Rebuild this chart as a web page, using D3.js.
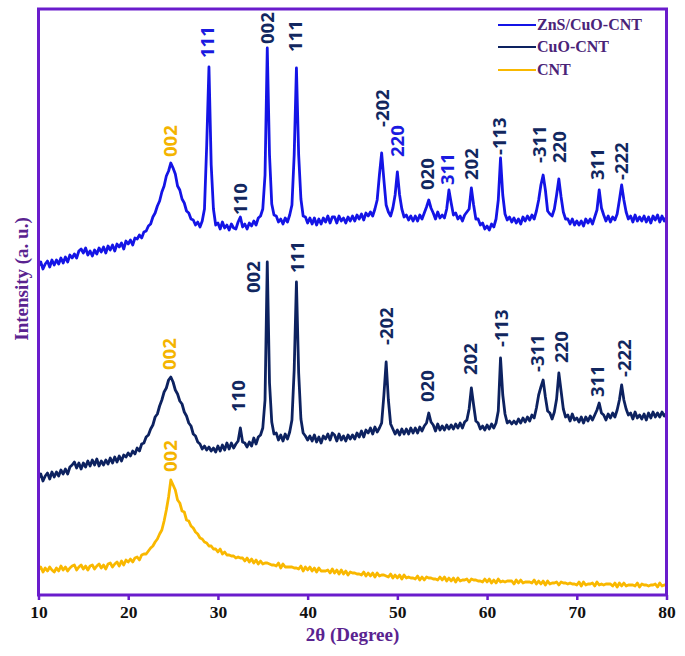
<!DOCTYPE html>
<html>
<head>
<meta charset="utf-8">
<script src="https://cdn.jsdelivr.net/npm/d3@7"></script>
<style>
  html, body { margin: 0; padding: 0; background: #fff; }
  svg { display: block; }
</style>
</head>
<body>
<svg id="chart" width="685" height="656"></svg>
<script>
// ---------- DATA ----------
// 2θ sampling: 10° to 80° every 0.25°
const twoThetaStart = 10;
const twoThetaStep = 0.25;
const xTicks = [10, 20, 30, 40, 50, 60, 70, 80];

const seriesNames = ["ZnS/CuO-CNT", "CuO-CNT", "CNT"];

// Intensity (a.u., offset traces as in the figure), one group per degree (x.00, x.25, x.50, x.75)
const znsCuoCnt = [
  329,333,326,331, 334,328,335,330, 335,331,337,332, 338,333,340,337, 341,337,344,346,
  342,347,340,344, 339,345,341,347, 343,348,342,349, 345,350,344,351, 348,352,346,354,
  351,355,350,357, 356,360,357,363, 364,369,371,378, 382,389,394,403, 409,419,424,432,
  427,421,409,405, 396,392,384,382, 376,375,370,373, 368,374,386,450, 528,430,386,370,
  372,366,373,367, 370,365,371,367, 366,373,378,368, 371,366,372,369, 374,370,377,379,
  386,420,547,440, 391,380,379,373, 376,371,377,373, 380,390,440,527, 440,396,379,378,
  372,377,371,377, 370,376,371,377, 373,379,372,378, 378,372,379,374, 377,372,378,374,
  379,374,380,376, 381,375,382,379, 383,379,386,395, 420,442,415,390, 383,379,387,400,
  423,400,386,378, 380,375,379,374, 379,374,380,376, 382,388,395,387, 382,376,383,377,
  380,377,386,405, 392,380,382,376, 379,374,380,383, 386,407,390,376, 376,370,372,366,
  369,365,371,368, 376,395,437,400, 381,375,378,373, 377,372,376,371, 378,374,379,375,
  380,376,384,395, 410,420,405,384, 381,379,386,400, 416,398,383,376, 376,371,376,370,
  374,370,374,369, 376,372,376,371, 378,385,405,387, 380,374,379,373, 378,375,381,395,
  410,395,383,376, 379,373,380,374, 378,374,379,373, 378,372,379,375, 380,373,379,374,
  378
];

const cuoCnt = [
  117,121,114,119, 122,116,123,118, 123,119,125,121, 126,121,128,130, 133,127,132,126,
  132,128,134,129, 135,130,136,129, 134,130,135,131, 137,132,138,133, 139,134,140,138,
  142,139,144,141, 147,144,151,152, 158,160,166,170, 178,181,189,195, 203,207,215,218,
  213,205,201,194, 191,183,179,172, 169,161,159,153, 151,146,149,145, 148,144,147,143,
  149,144,150,145, 152,146,152,147, 151,154,167,153, 152,148,153,149, 157,151,158,160,
  167,195,333,212, 173,161,162,155, 160,154,161,156, 163,175,225,313, 222,176,162,159,
  155,159,154,160, 153,158,152,159, 156,161,155,162, 160,154,161,155, 159,154,160,156,
  160,156,162,158, 164,158,165,162, 167,161,168,163, 167,172,200,233, 195,171,166,161,
  165,160,166,161, 166,161,167,162, 167,162,168,164, 169,172,182,173, 170,164,171,165,
  169,165,170,166, 170,166,171,167, 172,167,173,175, 186,207,190,174, 172,166,169,165,
  170,166,171,167, 172,184,237,200, 181,172,174,171, 174,171,176,172, 177,173,178,174,
  180,177,187,200, 208,215,198,184, 182,176,183,196, 222,204,186,178, 180,174,181,175,
  177,173,178,172, 178,174,179,175, 180,185,192,182, 180,175,181,177, 182,178,185,195,
  210,195,186,180, 182,176,183,177, 180,176,181,175, 182,177,183,178, 182,178,183,179,
  182
];

const cnt = [
  25,28,23,27, 24,28,25,23, 27,24,29,25, 28,24,27,29, 30,25,28,30,
  26,29,25,29, 30,26,29,31, 27,30,26,31, 32,28,31,33, 29,34,30,35,
  33,36,33,37, 38,35,40,41, 41,44,47,49, 53,56,61,65, 74,85,98,115,
  110,105,95,92, 84,83,75,74, 69,67,63,61, 57,56,53,52, 49,49,46,46,
  43,46,41,43, 40,40,39,39, 37,38,37,37, 34,37,33,36, 32,35,31,34,
  31,32,32,31, 30,30,29,32, 27,31,28,28, 28,28,27,27, 26,29,24,28,
  25,28,24,27, 23,27,24,24, 24,25,22,26, 22,25,21,25, 21,24,20,23,
  22,22,21,21, 20,23,19,22, 19,22,18,22, 19,20,20,19, 18,21,17,20,
  17,20,16,20, 17,18,17,17, 16,19,15,18, 15,18,17,17, 16,16,15,18,
  15,18,14,17, 14,17,13,17, 14,15,15,16, 13,16,15,15, 14,14,13,16,
  13,16,12,15, 12,16,13,14, 13,14,14,14, 11,15,12,15, 12,13,13,13,
  12,15,11,14, 11,14,10,14, 11,12,12,13, 10,13,12,12, 11,12,11,11,
  10,13,9,13, 10,11,11,12, 9,13,10,11, 10,11,11,11, 9,12,8,12,
  9,12,9,10, 10,10,9,12, 8,11,10,10, 9,10,10,11, 8,12,9,10,
  10
];

// Peak (hkl) annotations: [label, 2θ, intensity at label foot, colour key]
const peakLabels = [
  // ZnS/CuO-CNT trace
  ["002", 24.7, 438, "cnt"],
  ["111", 28.85, 537, "zns"],
  ["110", 32.5, 380, "cuo"],
  ["002", 35.5, 551, "cuo"],
  ["111", 38.6, 543, "cuo"],
  ["-202", 48.3, 468, "cuo"],
  ["220", 50.0, 438, "zns"],
  ["020", 53.3, 405, "cuo"],
  ["311", 55.6, 410, "zns"],
  ["202", 58.2, 415, "cuo"],
  ["-113", 61.4, 440, "cuo"],
  ["-311", 65.8, 432, "cuo"],
  ["220", 68.1, 432, "cuo"],
  ["311", 72.3, 415, "cuo"],
  ["-222", 75.0, 415, "cuo"],
  // CuO-CNT trace
  ["002", 24.6, 225, "cnt"],
  ["110", 32.3, 183, "cuo"],
  ["002", 34.0, 302, "cuo"],
  ["111", 38.8, 322, "cuo"],
  ["-202", 48.8, 250, "cuo"],
  ["020", 53.3, 193, "cuo"],
  ["202", 58.1, 220, "cuo"],
  ["-113", 61.6, 248, "cuo"],
  ["-311", 65.6, 223, "cuo"],
  ["220", 68.3, 232, "cuo"],
  ["311", 72.3, 198, "cuo"],
  ["-222", 75.3, 218, "cuo"],
  // CNT trace
  ["002", 24.7, 123, "cnt"]
];

// ---------- STYLE ----------
const colors = { zns: "#1414e6", cuo: "#0d2260", cnt: "#f9b800" };
const labelColors = { zns: "#1a1ae0", cuo: "#12275f", cnt: "#f4b400" };
const frameColor = "#6a1ccc";
const titleColor = "#5a2390";
const legendTextColor = "#4a2378";

// ---------- CHART ----------
const svg = d3.select("#chart");
const L = 38.5, R = 666.5, T = 9, B = 595;

const x = d3.scaleLinear().domain([10, 80]).range([L, R]);
const y = d3.scaleLinear().domain([0, B - T]).range([B, T]);

const toPoints = arr => arr.map((v, i) => [twoThetaStart + i * twoThetaStep, v]);
const line = d3.line().x(d => x(d[0])).y(d => y(d[1]));

const series = [
  { key: "zns", name: seriesNames[0], data: toPoints(znsCuoCnt) },
  { key: "cuo", name: seriesNames[1], data: toPoints(cuoCnt) },
  { key: "cnt", name: seriesNames[2], data: toPoints(cnt) }
];

svg.append("defs").append("clipPath").attr("id", "clip")
  .append("rect").attr("x", L).attr("y", T).attr("width", R - L).attr("height", B - T);

const plot = svg.append("g").attr("clip-path", "url(#clip)");
series.slice().reverse().forEach(s => {
  plot.append("path")
    .datum(s.data)
    .attr("fill", "none")
    .attr("stroke", colors[s.key])
    .attr("stroke-width", 2.8)
    .attr("stroke-linejoin", "round")
    .attr("d", line);
});

// peak labels
svg.append("g").selectAll("text")
  .data(peakLabels)
  .join("text")
  .attr("transform", d => `translate(${x(d[1])},${y(d[2])}) rotate(-90)`)
  .attr("dy", "0.36em")
  .attr("text-anchor", "start")
  .attr("font-family", "'Open Sans', sans-serif")
  .attr("font-weight", 700)
  .attr("font-size", "18.5px")
  .attr("fill", d => labelColors[d[3]])
  .text(d => d[0]);

// x axis
const xAxis = d3.axisBottom(x).tickValues(xTicks).tickFormat(d3.format("d")).tickSize(5).tickPadding(6);
const gx = svg.append("g").attr("transform", `translate(0,${B})`).call(xAxis);
gx.select(".domain").remove();
gx.selectAll(".tick line").attr("stroke", frameColor).attr("stroke-width", 2.5);
gx.selectAll(".tick text")
  .attr("font-family", "'Liberation Serif', 'Times New Roman', serif")
  .attr("font-weight", 700)
  .attr("font-size", "17.5px")
  .attr("fill", "#111");

// frame
svg.append("rect")
  .attr("x", L).attr("y", T).attr("width", R - L).attr("height", B - T)
  .attr("fill", "none").attr("stroke", frameColor).attr("stroke-width", 3);

// axis titles
svg.append("text")
  .attr("x", (L + R) / 2).attr("y", 641)
  .attr("text-anchor", "middle")
  .attr("font-family", "'Liberation Serif', 'Times New Roman', serif")
  .attr("font-weight", 700).attr("font-size", "19px")
  .attr("fill", titleColor)
  .text("2θ (Degree)");

svg.append("text")
  .attr("transform", `translate(28,279) rotate(-90)`)
  .attr("text-anchor", "middle")
  .attr("font-family", "'Liberation Serif', 'Times New Roman', serif")
  .attr("font-weight", 700).attr("font-size", "19px")
  .attr("fill", titleColor)
  .text("Intensity (a. u.)");

// legend
const legend = svg.append("g");
const legendRows = [25, 47, 70];
series.forEach((s, i) => {
  legend.append("line")
    .attr("x1", 498).attr("x2", 536)
    .attr("y1", legendRows[i]).attr("y2", legendRows[i])
    .attr("stroke", colors[s.key]).attr("stroke-width", 2.2);
  legend.append("text")
    .attr("x", 537).attr("y", legendRows[i]).attr("dy", "0.34em")
    .attr("font-family", "'Liberation Serif', 'Times New Roman', serif")
    .attr("font-weight", 700).attr("font-size", "16px")
    .attr("fill", legendTextColor)
    .text(s.name);
});
</script>
</body>
</html>
